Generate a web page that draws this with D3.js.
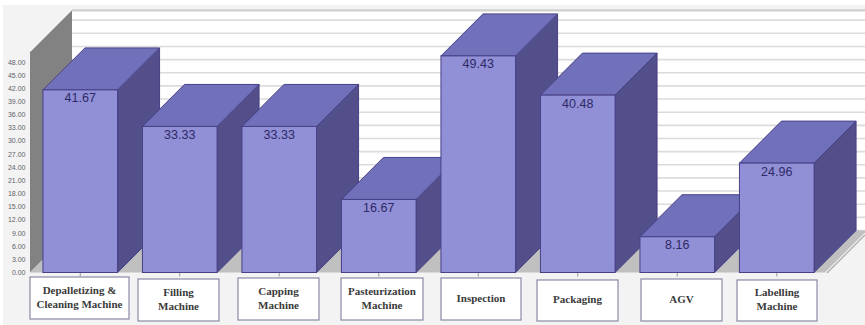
<!DOCTYPE html>
<html>
<head>
<meta charset="utf-8">
<script src="https://cdn.jsdelivr.net/npm/d3@7/dist/d3.min.js"></script>
<style>
html,body{margin:0;padding:0;background:#fff;}
svg{display:block;}
</style>
</head>
<body>
<svg id="chart" width="865" height="325"></svg>
<script>
const categories = [
  ["Depalletizing &", "Cleaning Machine"],
  ["Filling", "Machine"],
  ["Capping", "Machine"],
  ["Pasteurization", "Machine"],
  ["Inspection"],
  ["Packaging"],
  ["AGV"],
  ["Labelling", "Machine"]
];
const values = [41.67, 33.33, 33.33, 16.67, 49.43, 40.48, 8.16, 24.96];
const tickValues = [0, 3, 6, 9, 12, 15, 18, 21, 24, 27, 30, 33, 36, 39, 42, 45, 48];
const axisMax = 50.25;
const labelBoxes = [
  [30, 277, 99, 42], [138, 279, 81, 42], [238, 278, 81, 42], [341, 278, 82, 42],
  [441, 278, 80, 42], [537, 280, 81, 41], [641, 279, 81, 42], [737, 280, 80, 41]
];

const svg = d3.select("#chart");
const depth = 42;
const wallX = 30, floorRight = 825;

const y = d3.scaleLinear().domain([0, axisMax]).range([272.5, 52.3]);
const x = d3.scaleBand()
  .domain(d3.range(values.length))
  .range([30.5, 826.5])
  .paddingInner(0.25)
  .paddingOuter(0.125);

const poly = pts => pts.map(p => p.join(",")).join(" ");

// Page panel
svg.append("rect").attr("x", 3).attr("y", 5).attr("width", 862).attr("height", 320).attr("fill", "#f3f3f3");

// Back wall and gridlines
svg.append("rect")
  .attr("x", wallX + depth).attr("y", y(axisMax) - depth)
  .attr("width", 865 - wallX - depth).attr("height", y(0) - y(axisMax))
  .attr("fill", "#ffffff");
const grid = svg.append("g");
grid.selectAll("line").data(tickValues.concat([axisMax])).join("line")
  .attr("x1", wallX + depth).attr("x2", 865)
  .attr("y1", d => y(d) - depth).attr("y2", d => y(d) - depth)
  .attr("stroke", d => d === axisMax ? "#cfcfcf" : "#dcdcdc")
  .attr("stroke-width", d => d === axisMax ? 2.2 : 1.6);

// Side wall
svg.append("polygon")
  .attr("points", poly([[wallX, y(axisMax)], [wallX + depth, y(axisMax) - depth], [wallX + depth, y(0) - depth], [wallX, y(0)]]))
  .attr("fill", "#828282");

// Floor, with its thin front-right edge
svg.append("polygon")
  .attr("points", poly([[wallX, y(0)], [wallX + depth, y(0) - depth], [floorRight + depth, y(0) - depth], [floorRight, y(0)]]))
  .attr("fill", "#c0c0c0");
svg.append("line")
  .attr("x1", floorRight + 2).attr("y1", y(0) + 0.5)
  .attr("x2", 865).attr("y2", y(0) - 37.5)
  .attr("stroke", "#a8a8a8").attr("stroke-width", 1.2);

// Left axis labels
svg.append("g").selectAll("text").data(tickValues).join("text")
  .attr("x", 25.5).attr("y", d => y(d))
  .attr("dy", "0.35em")
  .attr("text-anchor", "end")
  .attr("font-family", "Liberation Sans, Arial, sans-serif")
  .attr("font-size", 7)
  .attr("fill", "#62626a")
  .text(d => d3.format(".2f")(d));

// Small ticks under each bar
svg.append("g").selectAll("line").data(values).join("line")
  .attr("x1", (d, i) => x(i) + x.bandwidth() / 2).attr("x2", (d, i) => x(i) + x.bandwidth() / 2)
  .attr("y1", y(0)).attr("y2", y(0) + 4)
  .attr("stroke", "#9a9aa8").attr("stroke-width", 1);

// Bars: side face, top face, front face
const bars = svg.append("g").selectAll("g").data(values).join("g");
const strokeCol = "#474186";
bars.append("polygon")
  .attr("points", (d, i) => {
    const r = x(i) + x.bandwidth();
    return poly([[r, y(d)], [r + depth, y(d) - depth], [r + depth, y(0) - depth], [r, y(0)]]);
  })
  .attr("fill", "#534f8b").attr("stroke", strokeCol).attr("stroke-width", 1);
bars.append("polygon")
  .attr("points", (d, i) => {
    const l = x(i), r = l + x.bandwidth();
    return poly([[l, y(d)], [l + depth, y(d) - depth], [r + depth, y(d) - depth], [r, y(d)]]);
  })
  .attr("fill", "#7070bb").attr("stroke", strokeCol).attr("stroke-width", 1);
bars.append("rect")
  .attr("x", (d, i) => x(i)).attr("y", d => y(d))
  .attr("width", x.bandwidth()).attr("height", d => y(0) - y(d))
  .attr("fill", "#918fd6").attr("stroke", strokeCol).attr("stroke-width", 1);
bars.append("text")
  .attr("x", (d, i) => x(i) + x.bandwidth() / 2)
  .attr("y", d => y(d) + 12.5)
  .attr("text-anchor", "middle")
  .attr("font-family", "Liberation Sans, Arial, sans-serif")
  .attr("font-size", 12.5)
  .attr("fill", "#2e2a66")
  .text(d => d3.format(".2f")(d));

// Category boxes
const boxes = svg.append("g").selectAll("g").data(categories).join("g");
boxes.append("rect")
  .attr("x", (d, i) => labelBoxes[i][0]).attr("y", (d, i) => labelBoxes[i][1])
  .attr("width", (d, i) => labelBoxes[i][2]).attr("height", (d, i) => labelBoxes[i][3])
  .attr("fill", "#ffffff").attr("stroke", "#8a8aa6").attr("stroke-width", 1.2);
boxes.each(function (lines, i) {
  const b = labelBoxes[i];
  const cy = b[1] + b[3] / 2 - 1;
  d3.select(this).selectAll("text").data(lines).join("text")
    .attr("x", b[0] + b[2] / 2)
    .attr("y", (l, k) => cy + (k - (lines.length - 1) / 2) * 14)
    .attr("dy", "0.35em")
    .attr("text-anchor", "middle")
    .attr("font-family", "Liberation Serif, Times New Roman, serif")
    .attr("font-weight", "bold")
    .attr("font-size", 11)
    .attr("fill", "#3a3a3a")
    .text(l => l);
});
</script>
</body>
</html>
